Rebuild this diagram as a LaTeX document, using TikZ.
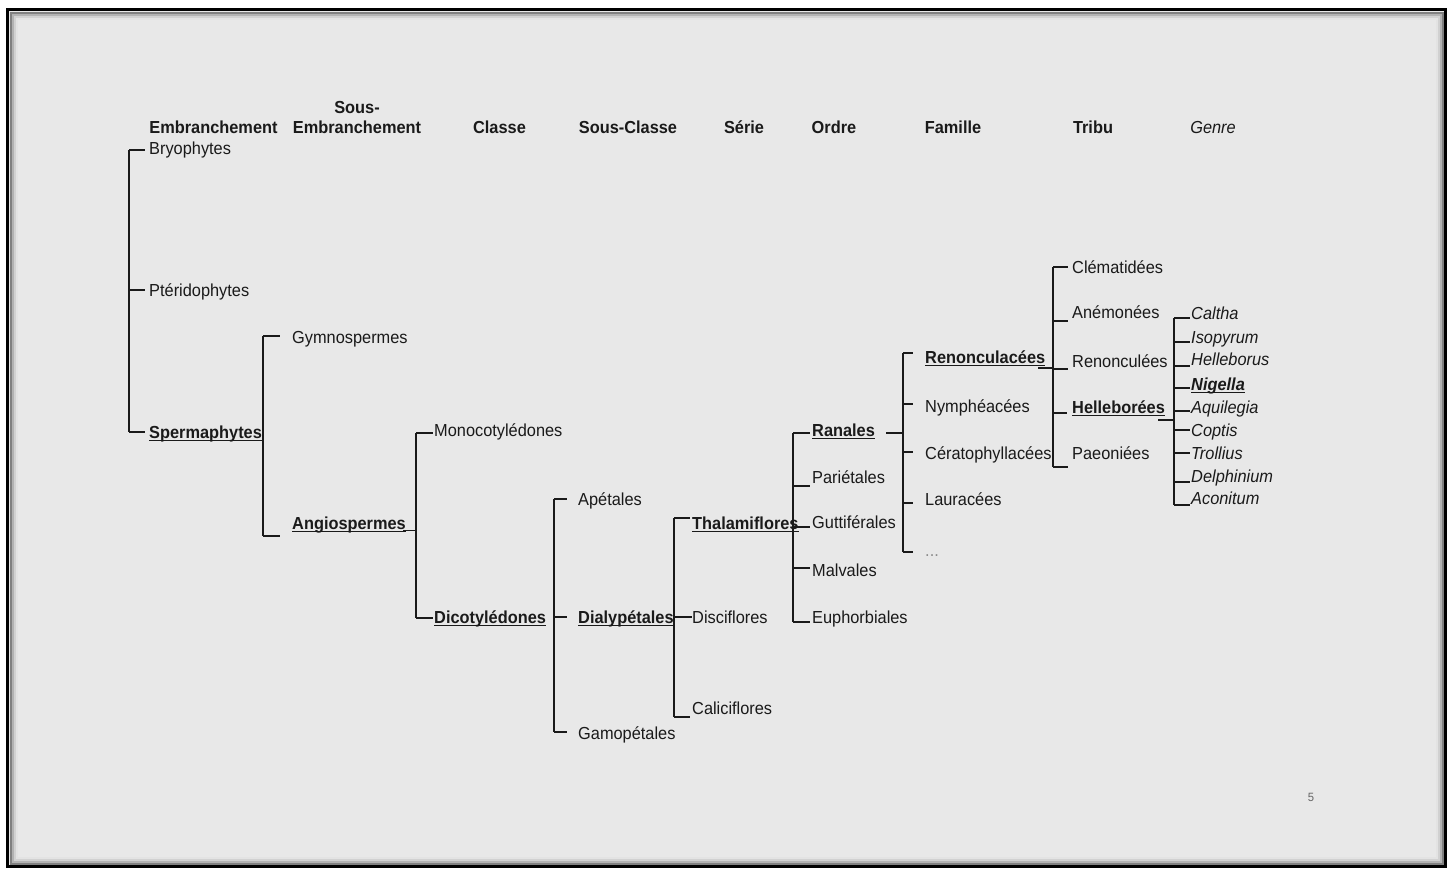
\documentclass[tikz,border=0pt]{standalone}
\usepackage{fontspec}
\setmainfont{Liberation Sans}[FakeStretch=0.94]
\usetikzlibrary{calc}
\definecolor{bg}{HTML}{E8E8E8}
\definecolor{ink}{HTML}{1A1A1A}
\newcommand\tk[4]{\draw[ln] ($(#1 |- #2.west)+(0,#3)$) -- ($(#2.west)+(-#4,#3)$);}
\newcommand\myund[1]{\draw[ln] ($(#1.base west)+(0,2)$) -- ($(#1.base east)+(0,2)$);}
\begin{document}
\begin{tikzpicture}[x=1pt,y=-1pt,
  lbl/.style={anchor=west,inner sep=0pt,text height=12.4pt,text depth=0pt,font=\fontsize{17.4}{20}\selectfont,text=ink},
  bld/.style={lbl,font=\fontsize{17.4}{20}\selectfont\bfseries},
  gen/.style={lbl,font=\fontsize{17.4}{20}\selectfont\itshape},
  hd/.style={lbl,anchor=center,font=\fontsize{17.4}{20}\selectfont\bfseries},
  ln/.style={draw=ink,line width=1.2pt}]
% background and frame
\fill[white] (0,0) rectangle (1453,868);
\fill[bg] (8,10) rectangle (1445,866);
\draw[black!50,line width=2pt] (10.5,12.5) rectangle (1442.5,863.5);
\draw[black!30,line width=2pt] (12.5,14.5) rectangle (1440.5,861.5);
\draw[black!18,line width=2pt] (14.5,16.5) rectangle (1438.5,859.5);
\draw[black!11,line width=2pt] (16.5,18.5) rectangle (1436.5,857.5);
\draw[black,line width=2.6pt] (7.5,9.3) rectangle (1445.5,866.7);
% headers
\node[hd] (hEmb) at (213.5,127) {Embranchement};
\node[hd] (hSous) at (357,107) {Sous-};
\node[hd] (hSEmb) at (357,127) {Embranchement};
\node[hd] (hCl) at (499.5,127) {Classe};
\node[hd] (hSC) at (628,127) {Sous-Classe};
\node[hd] (hSe) at (744,127) {Série};
\node[hd] (hOr) at (834,127) {Ordre};
\node[hd] (hFa) at (953,127) {Famille};
\node[hd] (hTr) at (1093,127) {Tribu};
\node[hd,font=\fontsize{17.4}{20}\selectfont\itshape] (hGe) at (1213,127) {Genre};
% level 1
\node[lbl] (Bry) at (149,148) {Bryophytes};
\node[lbl] (Pte) at (149,290) {Ptéridophytes};
\node[bld] (Sper) at (149,432) {Spermaphytes};
% level 2
\node[lbl] (Gym) at (292,337) {Gymnospermes};
\node[bld] (Ang) at (292,523) {Angiospermes};
% level 3
\node[lbl] (Mono) at (434,430) {Monocotylédones};
\node[bld] (Dico) at (434,617) {Dicotylédones};
% level 4
\node[lbl] (Ape) at (578,499) {Apétales};
\node[bld] (Dia) at (578,617) {Dialypétales};
\node[lbl] (Gam) at (578,733) {Gamopétales};
% level 5
\node[bld] (Tha) at (692,523) {Thalamiflores};
\node[lbl] (Dis) at (692,617) {Disciflores};
\node[lbl] (Cal) at (692,708) {Caliciflores};
% level 6
\node[bld] (Ran) at (812,430) {Ranales};
\node[lbl] (Par) at (812,477) {Pariétales};
\node[lbl] (Gut) at (812,522) {Guttiférales};
\node[lbl] (Mal) at (812,570) {Malvales};
\node[lbl] (Eup) at (812,617) {Euphorbiales};
% level 7
\node[bld] (Ren) at (925,357) {Renonculacées};
\node[lbl] (Nym) at (925,406) {Nymphéacées};
\node[lbl] (Cer) at (925,453) {Cératophyllacées};
\node[lbl] (Lau) at (925,499) {Lauracées};
\node[lbl,text=black!45] (Dots) at (925,550) {...};
% level 8
\node[lbl] (Cle) at (1072,267) {Clématidées};
\node[lbl] (Ane) at (1072,312) {Anémonées};
\node[lbl] (Rec) at (1072,361) {Renonculées};
\node[bld] (Hel) at (1072,407) {Helleborées};
\node[lbl] (Pae) at (1072,453) {Paeoniées};
% level 9
\node[gen] (gCal) at (1191,313) {Caltha};
\node[gen] (gIso) at (1191,337) {Isopyrum};
\node[gen] (gHbs) at (1191,359) {Helleborus};
\node[gen,font=\fontsize{17.4}{20}\selectfont\bfseries\itshape] (gNig) at (1191,384) {Nigella};
\node[gen] (gAqu) at (1191,407) {Aquilegia};
\node[gen] (gCop) at (1191,430) {Coptis};
\node[gen] (gTro) at (1191,453) {Trollius};
\node[gen] (gDel) at (1191,476) {Delphinium};
\node[gen] (gAco) at (1191,498) {Aconitum};
% page number
\node[inner sep=0pt,font=\fontsize{12}{13}\selectfont,text=black!60] (pg) at (1311,797) {5};
% bracket coordinates
\coordinate (v1t) at (129,150); \coordinate (v1b) at (129,432);
\coordinate (v2t) at (263,336); \coordinate (v2b) at (263,536);
\coordinate (v3t) at (416,433); \coordinate (v3b) at (416,618);
\coordinate (v4t) at (554,499); \coordinate (v4b) at (554,732);
\coordinate (v5t) at (674,518); \coordinate (v5b) at (674,717);
\coordinate (v6t) at (793,433); \coordinate (v6b) at (793,622);
\coordinate (v7t) at (903,353); \coordinate (v7b) at (903,552);
\coordinate (v8t) at (1053,267); \coordinate (v8b) at (1053,467);
\coordinate (v9t) at (1174,318); \coordinate (v9b) at (1174,505);
\foreach \v in {1,...,9} {\draw[ln] (v\v t) -- (v\v b);}
% ticks
\tk{v1t}{Bry}{2}{4} \tk{v1t}{Pte}{0}{4} \tk{v1t}{Sper}{0}{4}
\tk{v2t}{Gym}{-1}{12} \tk{v2t}{Ang}{13}{12}
\tk{v3t}{Mono}{3}{1} \tk{v3t}{Dico}{1}{1}
\tk{v4t}{Ape}{0}{11} \tk{v4t}{Dia}{0}{11} \tk{v4t}{Gam}{-1}{11}
\tk{v5t}{Tha}{-5}{2} \tk{v5t}{Dis}{0}{0} \tk{v5t}{Cal}{9}{2}
\tk{v6t}{Ran}{3}{2} \tk{v6t}{Par}{9}{2} \tk{v6t}{Gut}{5}{2} \tk{v6t}{Mal}{-2}{2} \tk{v6t}{Eup}{5}{2}
\tk{v7t}{Ren}{-4}{12} \tk{v7t}{Nym}{-2}{12} \tk{v7t}{Cer}{-1}{12} \tk{v7t}{Lau}{4}{12} \tk{v7t}{Dots}{2}{12}
\tk{v8t}{Cle}{0}{4} \tk{v8t}{Ane}{9}{4} \tk{v8t}{Rec}{8}{4} \tk{v8t}{Hel}{6}{5} \tk{v8t}{Pae}{14}{4}
\tk{v9t}{gCal}{5}{1} \tk{v9t}{gIso}{5}{1} \tk{v9t}{gHbs}{7}{1} \tk{v9t}{gNig}{4}{1} \tk{v9t}{gAqu}{4}{1}
\tk{v9t}{gCop}{0}{1} \tk{v9t}{gTro}{0}{1} \tk{v9t}{gDel}{6}{1} \tk{v9t}{gAco}{7}{1}
% underlines and parent connectors
\draw[ln] ($(Sper.base west)+(0,2)$) -- ($(v2t |- Sper.base)+(0,2)$);
\myund{Ang}
\draw[ln] ($(Ang.base east)+(-3,1)$) -- ($(v3t |- Ang.base)+(0,1)$);
\myund{Dico}
\draw[ln] ($(Dia.base west)+(0,2)$) -- ($(v5t |- Dia.base)+(0,2)$);
\draw[ln] ($(Tha.base west)+(0,2)$) -- ($(v6t |- Tha.base)+(6,2)$);
\myund{Ran}
\draw[ln] ($(Ran.east)+(11,3)$) -- ($(v7t |- Ran.east)+(0,3)$);
\myund{Ren}
\draw[ln] ($(Ren.east)+(-7,11)$) -- ($(v8t |- Ren.east)+(0,11)$);
\myund{Hel}
\draw[ln] ($(Hel.east)+(-7,13)$) -- ($(v9t |- Hel.east)+(1,13)$);
\myund{gNig}
\end{tikzpicture}
\end{document}
